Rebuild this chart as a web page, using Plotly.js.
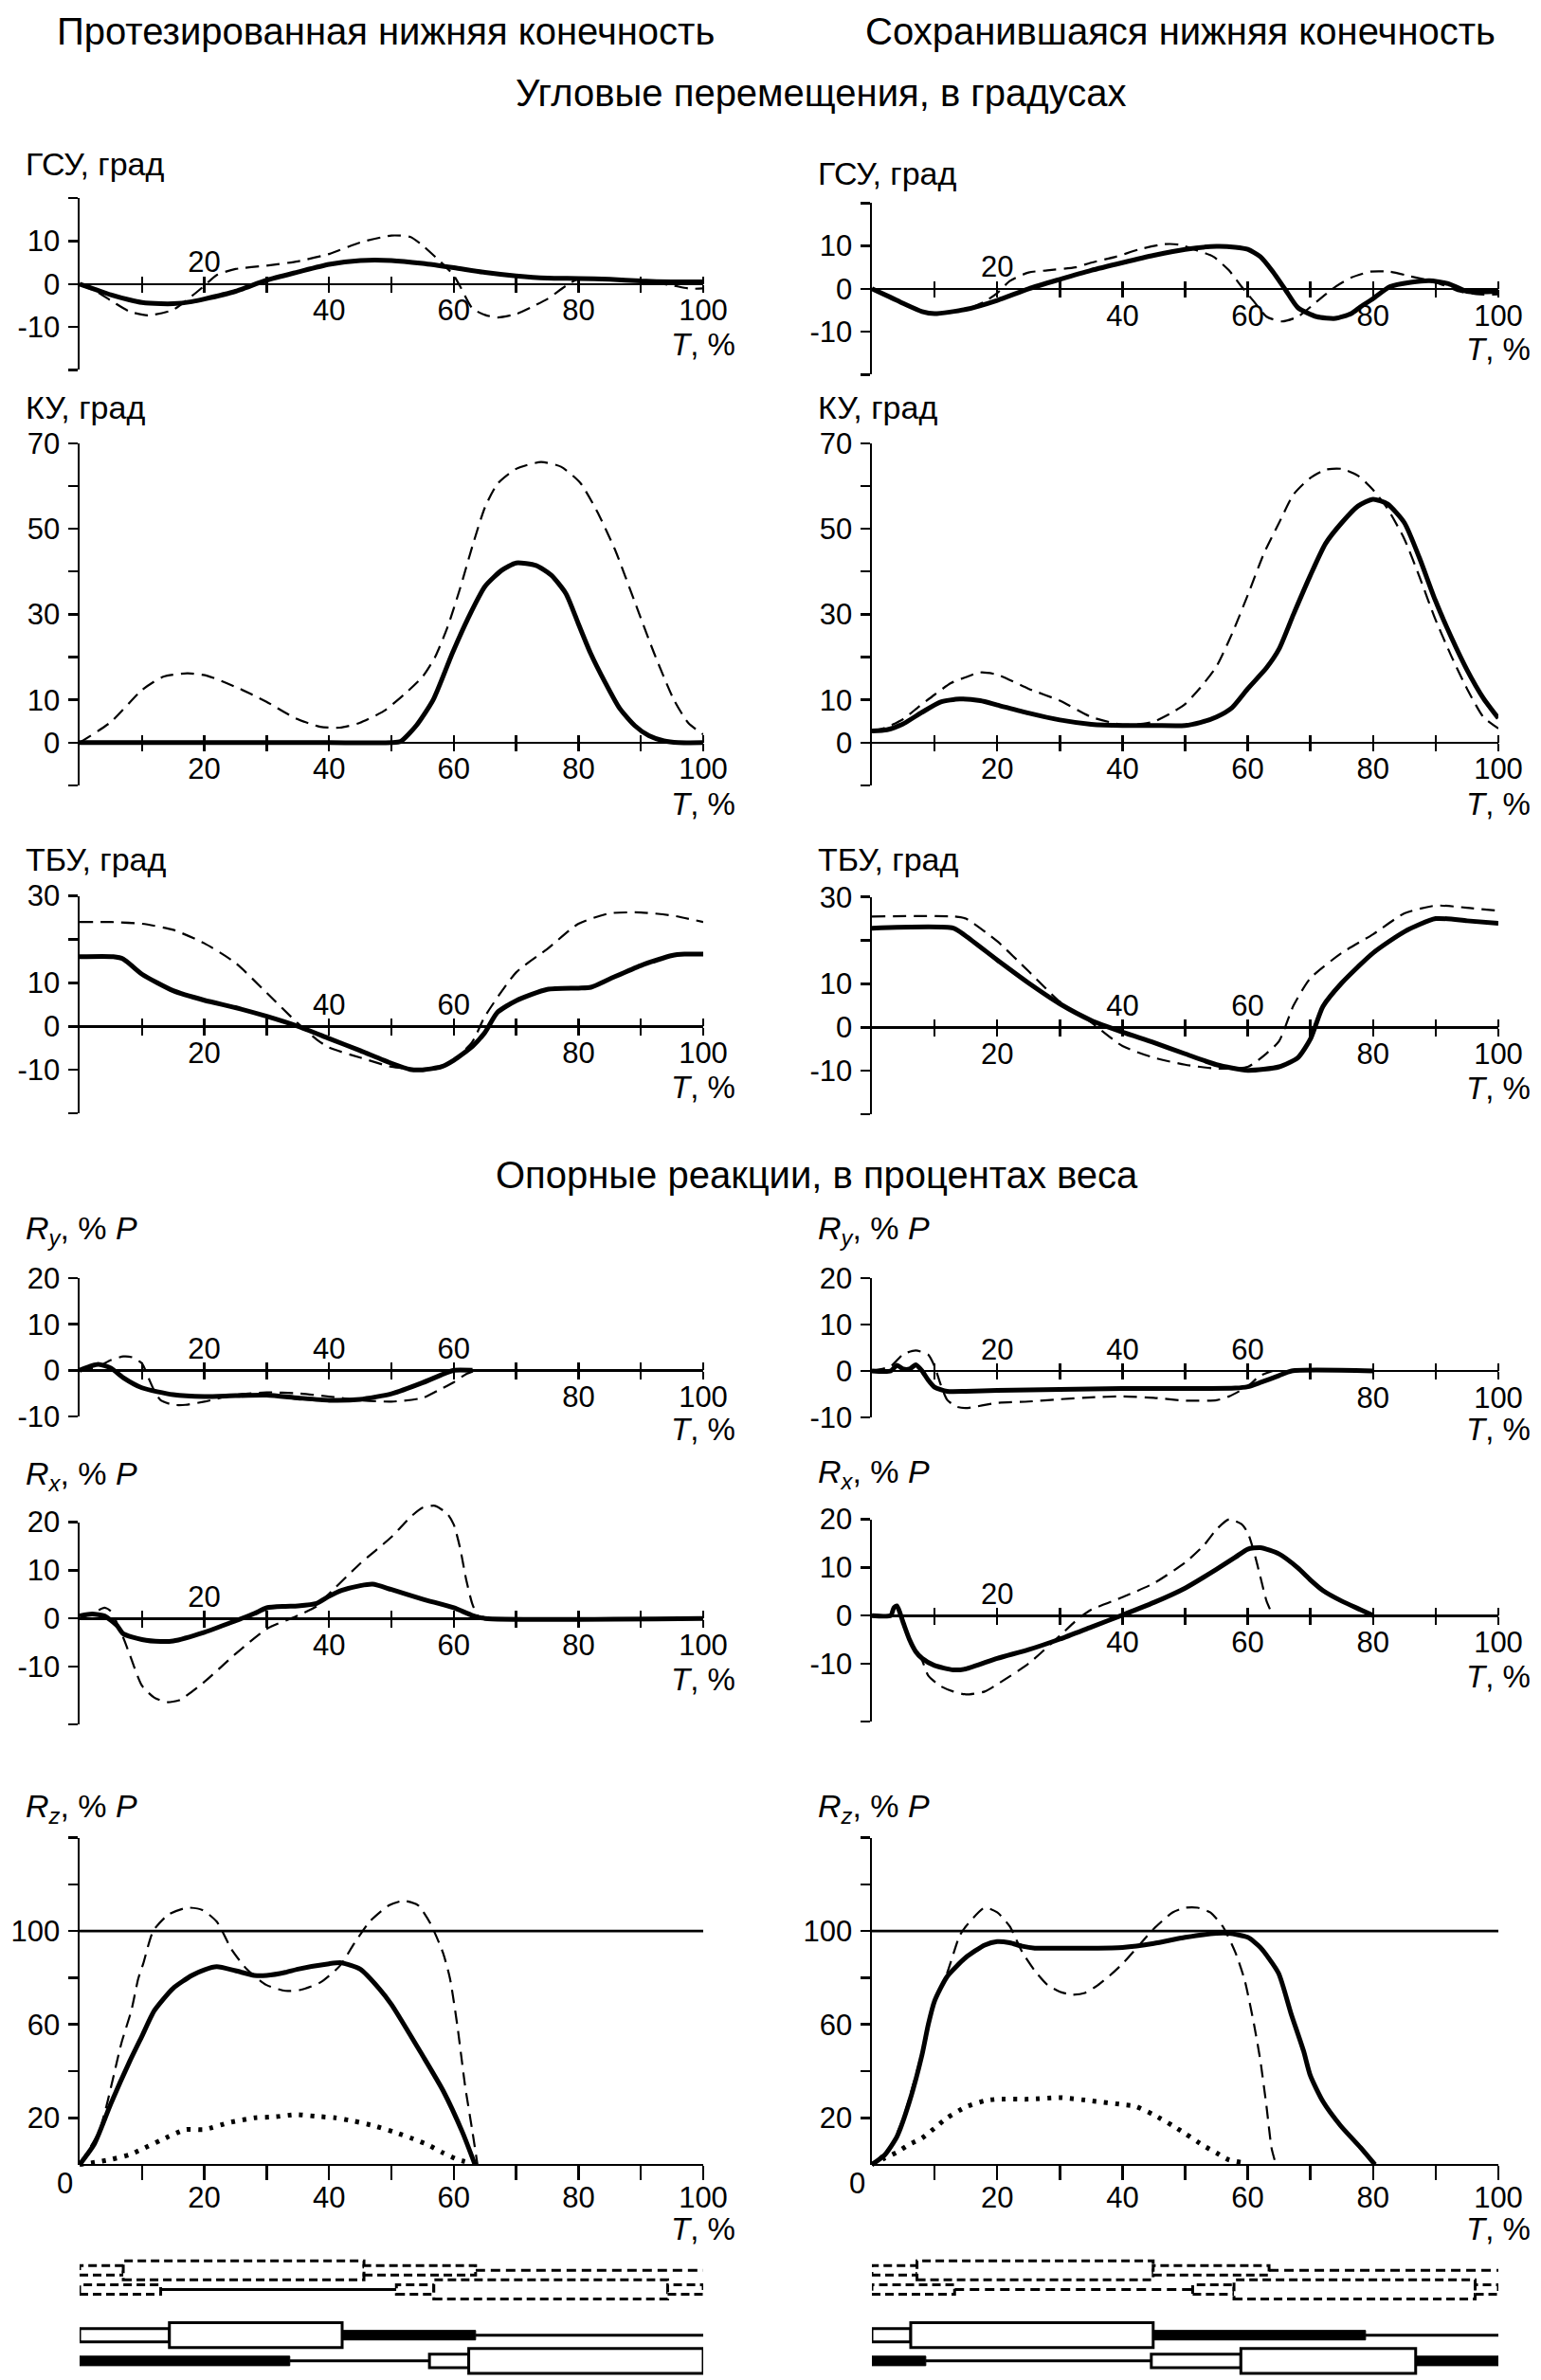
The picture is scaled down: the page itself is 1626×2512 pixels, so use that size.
<!DOCTYPE html>
<html><head><meta charset="utf-8">
<script src="https://cdn.plot.ly/plotly-3.0.1.min.js"></script>
<style>html,body{margin:0;padding:0;background:#fff}#chart{width:1626px;height:2512px}</style>
</head><body><div id="chart"></div>
<script>
// ---------- DATA ----------
const headLeft = 'Протезированная нижняя конечность';
const headRight = 'Сохранившаяся нижняя конечность';
const sectionAngles = 'Угловые перемещения, в градусах';
const sectionForces = 'Опорные реакции, в процентах веса';

const tTicks = [10,20,30,40,50,60,70,80,90,100];
const gsuTicks = [-20,-10,0,10,20];
const gsuTickText = ['', '-10', '0', '10', ''];
const kuTicks = [-10,0,10,20,30,40,50,60,70];
const kuTickText = ['', '0', '10', '', '30', '', '50', '', '70'];
const tbuTicks = [-20,-10,0,10,20,30];
const tbuTickText = ['', '-10', '0', '10', '', '30'];
const ryTicks = [-10,0,10,20];
const ryTickText = ['-10', '0', '10', '20'];
const rxTicks = [-22,-10,0,10,20];
const rxTickText = ['', '-10', '0', '10', '20'];
const rzTicks = [20,40,60,80,100,120,140];
const rzTickText = ['20', '', '60', '', '100', '', ''];

// ГСУ
const gsuLeftSolidT = [0,3,5,8,10,13,15,18,20,25,30,35,40,45,50,55,60,65,70,75,80,85,90,95,100];
const gsuLeftSolid  = [0,-1.5,-2.5,-3.7,-4.3,-4.6,-4.6,-4.1,-3.5,-1.7,0.9,2.8,4.6,5.5,5.5,4.8,3.8,2.7,1.9,1.4,1.3,1.1,0.7,0.5,0.5];
const gsuLeftDashT = [0,3,5.5,8,11,15,18,20,22,25,30,35,40,45,50,53,55,58,60,61,63,65,67,70,73,75,78,80,85,90,95,98,100];
const gsuLeftDash  = [0,-2,-4.3,-6.4,-7.3,-6,-2.8,-0.4,2.1,3.5,4.3,5.3,7,9.7,11.3,11,9,5,2,-0.5,-5.7,-7.2,-7.8,-7,-5,-3.5,-0.4,1.2,1.2,0.8,-0.3,-1.1,-1];
const gsuRightSolidT = [0,3,5,8,10,15,20,25,30,35,40,45,50,55,58,60,62,64,66,68,71,74,76.5,78,80,82.7,86,89,92,95,100];
const gsuRightSolid  = [0,-2,-3.4,-5.3,-5.8,-4.8,-2.7,0,2.2,4.3,6.1,7.8,9.2,9.9,9.7,9.2,7.5,4,-0.2,-4.4,-6.5,-6.9,-5.8,-4.2,-2.3,0.5,1.5,1.9,1.2,-0.6,-0.6];
const gsuRightDashT = [0,5,8,10,15,18,20,22,25,28,32.5,35,39,42.7,46.7,49,52,54.5,57,59,61,63,65.5,68,71,74,76.5,79.6,82.7,86,89,91.4,93.7,97,100];
const gsuRightDash  = [0,-3.4,-5.3,-5.8,-4.8,-3,-1,1.8,3.8,4.3,5,6.1,7.5,9.2,10.4,10.3,8.9,7.5,4.3,0.5,-3,-6.5,-7.6,-6.5,-3,0.5,2.6,4,4,2.9,1.9,0.8,-0.6,-1.3,-1.3];

// КУ
const kuLeftSolidT = [0,10,20,30,40,50,51.5,54,56.7,59.8,62.2,65,67.7,70,73.2,75.6,78,80,81.9,84.3,86.6,89,91.3,93.7,96,100];
const kuLeftSolid  = [0,0,0,0,0,0,0.3,4,10,21,28.8,36.5,40.3,42,41.4,39.2,34.8,27.7,21,14,8,4,1.6,0.4,0,0];
const kuLeftDashT = [0,5,10,13.4,17.3,20.5,25.2,29.9,34.6,38.6,41.7,44.9,48.8,52,55,57,59,61,63,65,67,70,74,77.2,80.3,83,85.8,89,92.1,95.3,97.6,100];
const kuLeftDash  = [0,4.8,12.3,15.4,16.2,15.6,12.9,9.6,5.7,3.7,3.5,4.6,7.4,11.2,15.4,20,27,36,46,55,60.5,64,65.6,64.5,60.7,54,45.3,33,21,10,4.6,1.9];
const kuRightSolidT = [0,2.4,5,8,11,14,17.3,20,25,30,35,40,45,50,52.4,55,57.5,60,63,65,67.3,69.9,72.4,75,77.6,80,82.3,85,87.4,89.9,92.5,95,97.6,100];
const kuRightSolid  = [2.7,3,4.4,7.1,9.5,10.2,9.8,8.8,6.9,5.3,4.3,4,4,4,4.7,6,8.2,12.6,17.5,21.9,30,38.8,46.5,51.4,55.3,56.9,55.8,51.4,43.2,33.4,24.6,17,10.4,5.7];
const kuRightDashT = [0,2.4,5,7.5,10,12.6,15,17.3,20,25,30,35,40,43.3,45,48,50,52.4,55,57.5,60,62.6,65,67.3,69.9,72.4,75,77.6,80,82.3,85,87.4,89.9,92.5,95,97.6,100];
const kuRightDash  = [2.7,3.6,5.5,8.4,11.2,13.9,15.3,16.4,15.9,12.6,9.8,6,4.2,4.4,4.9,7.1,9,12.8,17.8,25.5,34.5,44.3,51.4,58,61.8,63.8,64,62.4,59.1,54.7,47.6,38.8,29,20.2,12.6,6,3.3];

// ТБУ
const tbuLeftSolidT = [0,5.4,7,10,15,20,25,30,35,40,45,50,53,55,58,60,63,65,67,70,75,80,82,85,90,95,97,100];
const tbuLeftSolid  = [16,16,15.5,12,8.2,6,4.3,2.3,0,-2.8,-5.6,-8.5,-9.9,-10,-9.3,-7.8,-4.6,-1.4,3.2,5.9,8.5,8.8,9,10.9,14,16.3,16.6,16.6];
const tbuLeftDashT = [0,5,10,15,20,25,30,35,38,40,45,50,55,58,60,63,65,70,75,80,85,90,95,100];
const tbuLeftDash  = [24,24,23.6,22.2,19.1,14.6,7.7,0.7,-3,-4.9,-7.2,-9.3,-10,-9.5,-7.8,-3.5,2.3,12.4,17.8,23.6,26,26.2,25.5,24];
const tbuRightSolidT = [0,13,15,20,25,30,35,40,45,50,55,60,65,68,70,72,75,80,85,90,95,100];
const tbuRightSolid  = [22.8,22.8,21,15.5,10.2,5.4,1.6,-1.1,-3.5,-6.1,-8.6,-9.9,-9.1,-7,-2.7,4.8,10.2,17.1,22,25,24.5,23.9];
const tbuRightDashT = [0,13,15,20,25,30,35,40,45,50,55,60,63,65,67.3,70,75,80,85,90,95,100];
const tbuRightDash  = [25.5,25.5,25,19.8,12.9,5.9,1.1,-4.3,-7,-8.6,-9.5,-9.1,-6,-3.2,5,11.3,17.1,21.4,26.2,28,27.5,26.8];

// Ry
const ryLeftSolidT = [0,2,3,5,7,10,15,20,25,30,35,40,45,50,55,58,60,63];
const ryLeftSolid  = [0,1,1.3,0.5,-1.6,-3.8,-5.3,-5.7,-5.5,-5.4,-6,-6.5,-6.3,-5.1,-2.7,-1,0,0];
const ryLeftDashT = [0,3,5,7,8.5,10,11,12,13,15,17,20,25,30,35,40,45,50,55,58,60,62,63.5];
const ryLeftDash  = [0,0.8,2.2,3,2.8,1.5,-1.5,-4.5,-6.5,-7.5,-7.5,-6.8,-5.3,-4.8,-5,-5.7,-6.5,-6.8,-6,-4,-2.6,-0.8,0];
const ryRightSolidT = [0,3,4,5,6,7,8,9,10,12,15,20,30,40,50,58,60,62,65,67,80];
const ryRightSolid  = [0,0,1.2,0.4,0.4,1.3,0,-2,-3.5,-4.4,-4.4,-4.2,-4,-3.8,-3.8,-3.7,-3.4,-2.5,-1,0,0];
const ryRightDashT = [0,3,5,7,9,10,11,12,13.5,15,20,25,30,35,40,45,50,55,57,60,62,64];
const ryRightDash  = [0,1,3.6,4.4,3.5,1,-3,-6.2,-7.7,-8,-6.9,-6.6,-6.1,-5.7,-5.5,-5.8,-6.4,-6.3,-5.5,-3.3,-1,0];

// Rx
const rxLeftSolidT = [0,2,4,6,7,10,13,15,20,25,28,30,33,35,38,40,42,45,47,50,55,60,63,65,100];
const rxLeftSolid  = [0.5,0.9,0.5,-1.5,-3.2,-4.4,-4.8,-4.7,-2.9,-0.5,1,2.2,2.5,2.6,3.1,4.6,5.8,6.8,7.1,6,4,2.2,0.6,0,0];
const rxLeftDashT = [0,2,4,5,6,7,8,10,12,14,16,20,25,30,35,38,40,45,50,53,55,57,59,60,61,62,63,64,65];
const rxLeftDash  = [0,1,2.2,1.5,-1,-4,-7.4,-14,-16.5,-17.4,-17,-13.2,-7.4,-2.2,0.6,2.5,5.1,11.4,16.9,21,23,23.4,21.7,19.5,14.7,8,2.9,0.3,0];
const rxRightSolidT = [0,3,3.5,4,5,6,7,8,10,13,15,20,25,30,35,40,45,50,55,58,60,62,65,68,70,72,75,78,80];
const rxRightSolid  = [0,0,1.6,2,-1.5,-5,-7.5,-8.9,-10.4,-11.3,-11.1,-8.9,-7.1,-4.9,-2.4,0.1,2.7,5.7,9.6,12.1,13.8,14.1,12.8,9.9,7.4,5.2,3,1.2,0];
const rxRightDashT = [0,3,3.5,4,5,6,8,9,11,13,15,18,20,25,30,33,35,40,45,50,53,55,57,59,60,61,62,63,64];
const rxRightDash  = [0,0,1.6,2,-1.5,-5,-9.3,-12.5,-14.7,-15.8,-16.4,-15.8,-14.3,-10,-4.2,-0.6,1.2,3.8,6.7,11,14.6,17.9,20,19,17.2,13.2,8.1,3,0];

// Rz
const rzBodyWeight = 100;
const rzLeftSolidT = [0,2.4,5,8,10,12,15,18,20,22,25,28,30,33,35,40,42,45,48,50,55,58.3,61.4,63.4];
const rzLeftSolid  = [0,9,26,44,55,66,75.5,81,83.4,84.7,83,81,81,82.3,83.7,86,86.4,83.7,75.5,68.6,46.7,31.6,13.8,0];
const rzLeftDashT = [0,3.1,4.3,5.5,6.7,8.3,9.4,10.2,11.8,14.2,17.3,19.7,22,24.4,26.8,29.9,33,35.4,38.6,41.7,44,46.5,49.6,52,54.3,56.3,58.3,59.4,60.6,61.8,63,63.8];
const rzLeftDash  = [0,14,25,38.5,52,66,79.6,86,100,107,110,109,104,92,83.7,77,74.4,74.8,78,85,94.5,104,111,113,111,103,90.5,79.6,59,34,14,0];
const rzLeftDotT = [0,3,5,8,10,13,17,20,24,28,31.5,34.6,37.8,41,44,47.2,50.4,53.5,55.9,58.3,60.6,62.6];
const rzLeftDot  = [0,1.2,2.2,4.2,6.6,10.4,15,15,18,20,20.5,21.4,20.7,20,18.6,16.6,14,11,8.4,5,2.2,0.8];
const rzRightSolidT = [0,2,4,6,8,9,10,12,15,18,20,22,24,26,30,35,40,45,50,55,57,60,62,64.9,66.9,68.9,70,72,74.8,78,80.3];
const rzRightSolid  = [0,4,12,27,47,60,70,80.5,88.7,94,95.5,95,93.5,92.7,92.7,92.7,93,94.7,97.3,99,99,97.3,93,82,64.7,48.7,38,27,16.7,7.3,0];
const rzRightDashT = [0,3,5,8,10,12,14,15,18,20,22,24,26,28,30,32,34,36,38,40,43,45,48,50,52,54,56,58,59.5,61,62,63,63.8,64.5];
const rzRightDash  = [0,8,20,48,70,82,98,102,110,108,102,91,83,77,74,72.7,73.5,76.7,81,86,95,101,108,110,110,108,102,91,79,60,44.7,24.7,7,0];
const rzRightDotT = [0,2,4,6,8,10,12,15,18,20,25,30,35,40,42,45,48,50,53,55,57,60];
const rzRightDot  = [0,2.7,5.3,8.7,11.3,15.6,20,24.7,27.3,28,28,28.7,27.3,25.7,25,21.3,16.7,13.3,8,5,2,0.5];

// Gait phase diagrams: [kind, start %, end %]
const gaitLeftRow1 = [['narrow',0,7],['tall',7,45.6],['narrow',45.6,63.5],['line',63.5,100]];
const gaitLeftRow2 = [['narrow',0,13],['lineSolid',13,50.8],['narrow',50.8,56.8],['tall',56.8,94.3],['narrow',94.3,100]];
const gaitLeftRow3 = [['narrow',0,14.4],['tall',14.4,42.1],['thick',42.1,63.5],['line',63.5,100]];
const gaitLeftRow4 = [['thick',0,33.7],['line',33.7,56.1],['narrow',56.1,62.4],['tall',62.4,100]];
const gaitRightRow1 = [['narrow',0,7.2],['tall',7.2,44.9],['narrow',44.9,63.4],['line',63.4,100]];
const gaitRightRow2 = [['narrow',0,13.2],['line',13.2,51.2],['narrow',51.2,57.8],['tall',57.8,96.3],['narrow',96.3,100]];
const gaitRightRow3 = [['narrow',0,6.2],['tall',6.2,44.9],['thick',44.9,78.8],['line',78.8,100]];
const gaitRightRow4 = [['thick',0,8.6],['line',8.6,44.6],['narrow',44.6,58.9],['tall',58.9,86.8],['thick',86.8,100]];

// ---------- LAYOUT HELPERS ----------
const W = 1626, H = 2512, KY = 1.006;
const FONT = 'Liberation Sans, Arial, Helvetica, sans-serif';
const fx = p => p / W;
const fy = p => 1 - (p * KY) / H;
const colL = {x0: 84, x1: 742};
const colR = {x0: 920, x1: 1581};

function labelsFor(vals) { return tTicks.map(v => vals.includes(v) ? String(v) : ''); }

const S = (x, y) => ({x, y, kind: 'solid'});
const D = (x, y) => ({x, y, kind: 'dash'});
const P = (x, y) => ({x, y, kind: 'dot'});
const R = (x, y) => ({x, y, kind: 'ref'});

const lblR = s => '<i>R</i><sub><i>' + s + '</i></sub>, % <i>P</i>';

const panels = [
  {col: colL, yMin: -20, yMax: 20, top: 208, bot: 388, tv: gsuTicks, tt: gsuTickText, below: [40,60,80,100], above: [20], label: 'ГСУ, град', labelY: 172, tShift: 64,
   series: [D(gsuLeftDashT, gsuLeftDash), S(gsuLeftSolidT, gsuLeftSolid)]},
  {col: colR, yMin: -20, yMax: 20, top: 213, bot: 393, tv: gsuTicks, tt: gsuTickText, below: [40,60,80,100], above: [20], label: 'ГСУ, град', labelY: 182, tShift: 64,
   series: [D(gsuRightDashT, gsuRightDash), S(gsuRightSolidT, gsuRightSolid)]},
  {col: colL, yMin: -10, yMax: 70, top: 465, bot: 824, tv: kuTicks, tt: kuTickText, below: [20,40,60,80,100], above: [], label: 'КУ, град', labelY: 427, tShift: 65,
   series: [D(kuLeftDashT, kuLeftDash), S(kuLeftSolidT, kuLeftSolid)]},
  {col: colR, yMin: -10, yMax: 70, top: 465, bot: 824, tv: kuTicks, tt: kuTickText, below: [20,40,60,80,100], above: [], label: 'КУ, град', labelY: 427, tShift: 65,
   series: [D(kuRightDashT, kuRightDash), S(kuRightSolidT, kuRightSolid)]},
  {col: colL, yMin: -20, yMax: 30, top: 940, bot: 1168, tv: tbuTicks, tt: tbuTickText, below: [20,80,100], above: [40,60], label: 'ТБУ, град', labelY: 902, tShift: 64,
   series: [D(tbuLeftDashT, tbuLeftDash), S(tbuLeftSolidT, tbuLeftSolid)]},
  {col: colR, yMin: -20, yMax: 30, top: 941, bot: 1169, tv: tbuTicks, tt: tbuTickText, below: [20,80,100], above: [40,60], label: 'ТБУ, град', labelY: 902, tShift: 64,
   series: [D(tbuRightDashT, tbuRightDash), S(tbuRightSolidT, tbuRightSolid)]},
  {col: colL, yMin: -10, yMax: 20, top: 1341, bot: 1486, tv: ryTicks, tt: ryTickText, below: [80,100], above: [20,40,60], label: lblR('y'), labelY: 1291, tShift: 62,
   series: [D(ryLeftDashT, ryLeftDash), S(ryLeftSolidT, ryLeftSolid)]},
  {col: colR, yMin: -10, yMax: 20, top: 1341, bot: 1487, tv: ryTicks, tt: ryTickText, below: [80,100], above: [20,40,60], label: lblR('y'), labelY: 1291, tShift: 62,
   series: [D(ryRightDashT, ryRightDash), S(ryRightSolidT, ryRightSolid)]},
  {col: colL, yMin: -22, yMax: 20, top: 1597, bot: 1809, tv: rxTicks, tt: rxTickText, below: [40,60,80,100], above: [20], label: lblR('x'), labelY: 1548, tShift: 64,
   series: [D(rxLeftDashT, rxLeftDash), S(rxLeftSolidT, rxLeftSolid)]},
  {col: colR, yMin: -22, yMax: 20, top: 1594, bot: 1806, tv: rxTicks, tt: rxTickText, below: [40,60,80,100], above: [20], label: lblR('x'), labelY: 1546, tShift: 64,
   series: [D(rxRightDashT, rxRightDash), S(rxRightSolidT, rxRightSolid)]},
  {col: colL, yMin: 0, yMax: 140, top: 1928, bot: 2271, tv: rzTicks, tt: rzTickText, below: [20,40,60,80,100], above: [], label: lblR('z'), labelY: 1897, tShift: 68, rz: true,
   series: [R([0,100], [rzBodyWeight, rzBodyWeight]), D(rzLeftDashT, rzLeftDash), P(rzLeftDotT, rzLeftDot), S(rzLeftSolidT, rzLeftSolid)]},
  {col: colR, yMin: 0, yMax: 140, top: 1928, bot: 2271, tv: rzTicks, tt: rzTickText, below: [20,40,60,80,100], above: [], label: lblR('z'), labelY: 1897, tShift: 68, rz: true,
   series: [R([0,100], [rzBodyWeight, rzBodyWeight]), D(rzRightDashT, rzRightDash), P(rzRightDotT, rzRightDot), S(rzRightSolidT, rzRightSolid)]}
];

const lineStyles = {
  solid: {color: '#000', width: 5},
  ref:   {color: '#000', width: 2.6},
  dash:  {color: '#000', width: 2.2, dash: '14px,8px'},
  dot:   {color: '#000', width: 5, dash: '4px,8px'}
};

const traces = [];
const layout = {
  width: W, height: H,
  margin: {l: 0, r: 0, t: 0, b: 0},
  paper_bgcolor: '#fff', plot_bgcolor: 'rgba(0,0,0,0)',
  showlegend: false,
  font: {family: FONT, size: 31, color: '#000'},
  annotations: [], shapes: []
};

const tickFont = {family: FONT, size: 31, color: '#000'};
const PAD = 40; // px of free room around each plotting area so curves are not clipped

panels.forEach((p, i) => {
  const n = i + 1, dispN = n + 40, overN = n + 12;
  const unit = (p.bot - p.top) / (p.yMax - p.yMin);
  const padU = PAD / unit;
  const xd = [fx(p.col.x0), fx(p.col.x1)];
  const zeroPx = p.top + (p.yMax - 0) * unit;
  const zeroPos = fy(zeroPx);
  layout['yaxis' + n] = {
    domain: [fy(p.bot + PAD), fy(p.top - PAD)], range: [p.yMin - padU, p.yMax + padU],
    anchor: 'x' + n, visible: false, fixedrange: true
  };
  layout['yaxis' + dispN] = {
    domain: [fy(p.bot), fy(p.top)], range: [p.yMin, p.yMax], anchor: 'x' + n,
    tickmode: 'array', tickvals: p.tv, ticktext: p.tt,
    ticks: 'outside', ticklen: 10, tickwidth: 2.5, tickcolor: '#000',
    showline: true, linewidth: 2.5, linecolor: '#000',
    showgrid: false, zeroline: false, tickfont: tickFont, ticklabelstandoff: 2, fixedrange: true
  };
  traces.push({x: [null], y: [null], xaxis: 'x' + n, yaxis: 'y' + dispN, mode: 'lines', hoverinfo: 'skip', showlegend: false});
  layout['xaxis' + n] = {
    domain: xd, range: [0, 100], anchor: 'free', position: zeroPos,
    tickmode: 'array', tickvals: tTicks, ticktext: labelsFor(p.below),
    ticks: 'outside', ticklen: p.rz ? 15 : 8, tickwidth: 2.5, tickcolor: '#000',
    showline: true, linewidth: 2.5, linecolor: '#000',
    showgrid: false, zeroline: false, tickfont: tickFont, ticklabelstandoff: p.rz ? -8 : -8, fixedrange: true
  };
  if (!p.rz) {
    layout['xaxis' + overN] = {
      overlaying: 'x' + n, side: 'top', anchor: 'free', position: zeroPos,
      range: [0, 100], tickmode: 'array', tickvals: tTicks, ticktext: labelsFor(p.above),
      ticks: 'outside', ticklen: 8, tickwidth: 2.5, tickcolor: '#000',
      showline: false, showgrid: false, zeroline: false, tickfont: tickFont, ticklabelstandoff: -8, fixedrange: true
    };
    traces.push({x: [null], y: [null], xaxis: 'x' + overN, yaxis: 'y' + n, mode: 'lines', hoverinfo: 'skip', showlegend: false});
  }
  p.series.forEach(s => {
    traces.push({
      x: s.x, y: s.y, xaxis: 'x' + n, yaxis: 'y' + n, mode: 'lines',
      line: Object.assign({shape: 'spline', smoothing: 0.6}, lineStyles[s.kind]),
      hoverinfo: 'skip', showlegend: false
    });
  });
  layout.annotations.push({
    xref: 'paper', yref: 'paper', x: fx(p.col.x0 - 59), y: fy(p.labelY),
    xanchor: 'left', yanchor: 'middle', text: p.label, showarrow: false,
    font: {family: FONT, size: 34, color: '#000'}
  });
  layout.annotations.push({
    xref: 'x' + n, yref: 'paper', x: 100, y: zeroPos, yshift: -p.tShift,
    xanchor: 'center', yanchor: 'middle', text: '<i>T</i>, %', showarrow: false,
    font: {family: FONT, size: 33, color: '#000'}
  });
  if (p.rz) {
    layout.annotations.push({
      xref: 'x' + n, yref: 'paper', x: 0, y: zeroPos, xshift: -16, yshift: -20,
      xanchor: 'center', yanchor: 'middle', text: '0', showarrow: false, font: tickFont
    });
  }
});

// headings
[[headLeft, 407, 33], [headRight, 1245, 33], [sectionAngles, 866, 97], [sectionForces, 862, 1233]].forEach(([t, x, y]) => {
  layout.annotations.push({xref: 'paper', yref: 'paper', x: fx(x), y: fy(y), xanchor: 'center', yanchor: 'middle',
    text: t, showarrow: false, font: {family: FONT, size: 40, color: '#000'}});
});

// gait diagrams
const gaitTop = 2355, gaitBot = 2495;
const gaitRowPx = [2382, 2402, 2450, 2477];
const gaitCols = [
  {col: colL, rows: [gaitLeftRow1, gaitLeftRow2, gaitLeftRow3, gaitLeftRow4], n: 25},
  {col: colR, rows: [gaitRightRow1, gaitRightRow2, gaitRightRow3, gaitRightRow4], n: 26}
];
gaitCols.forEach(g => {
  const xr = 'x' + g.n, yr = 'y' + g.n;
  layout['xaxis' + g.n] = {domain: [fx(g.col.x0), fx(g.col.x1)], range: [0, 100], anchor: yr, visible: false, fixedrange: true};
  layout['yaxis' + g.n] = {domain: [fy(gaitBot), fy(gaitTop)], range: [0, gaitBot - gaitTop], anchor: xr, visible: false, fixedrange: true};
  traces.push({x: [null], y: [null], xaxis: xr, yaxis: yr, mode: 'lines', hoverinfo: 'skip', showlegend: false});
  const lines = [], boxes = [];
  g.rows.forEach((segs, r) => {
    const lvl = gaitBot - gaitRowPx[r];
    const dashed = r < 2;
    const dashPat = dashed ? '9px,5px' : 'solid';
    segs.forEach(([kind, a, b]) => {
      if (kind === 'line' || kind === 'lineSolid') {
        lines.push({type: 'line', xref: xr, yref: yr, x0: a, x1: b, y0: lvl, y1: lvl, layer: 'above',
          line: {color: '#000', width: 3, dash: (kind === 'line' && dashed) ? '10px,6px' : 'solid'}});
      } else if (kind === 'thick' && !dashed) {
        boxes.push({type: 'rect', xref: xr, yref: yr, x0: a, x1: b, y0: lvl - 5, y1: lvl + 5, layer: 'above',
          fillcolor: '#000', line: {color: '#000', width: 1}});
      } else {
        const h = kind === 'tall' ? (dashed ? 10 : 13) : (dashed ? 5 : 7);
        boxes.push({type: 'rect', xref: xr, yref: yr, x0: a, x1: b, y0: lvl - h, y1: lvl + h, layer: 'above',
          fillcolor: '#fff', line: {color: '#000', width: 3, dash: dashPat}});
      }
    });
  });
  layout.shapes.push(...lines, ...boxes);
});

Plotly.newPlot('chart', traces, layout, {displayModeBar: false, staticPlot: true});
</script></body></html>
